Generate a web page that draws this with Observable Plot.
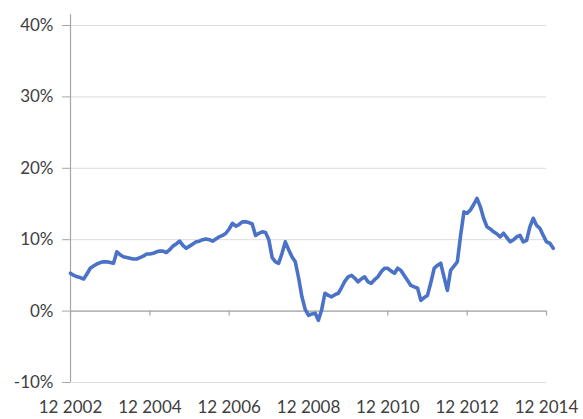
<!DOCTYPE html>
<html>
<head>
<meta charset="utf-8">
<script src="https://cdn.jsdelivr.net/npm/d3@7"></script>
<script src="https://cdn.jsdelivr.net/npm/@observablehq/plot@0.6"></script>
<style>
  html, body { margin: 0; padding: 0; background: #ffffff; }
  #chart svg { display: block; }
</style>
</head>
<body>
<div id="chart"></div>
<script>
// Monthly values (%), starting December 2002
const startYear = 2002;
const startMonth = 11; // December (0-based)
const values = [
  5.3, 5.0, 4.8, 4.7, 4.5, 5.2, 6.0, 6.3, 6.6, 6.8, 6.9, 6.9,
  6.8, 6.7, 8.3, 7.9, 7.6, 7.5, 7.4, 7.3, 7.3, 7.5, 7.7, 8.0,
  8.0, 8.1, 8.3, 8.4, 8.4, 8.2, 8.6, 9.1, 9.4, 9.8, 9.2, 8.8,
  9.1, 9.4, 9.7, 9.8, 10.0, 10.1, 10.0, 9.8, 10.1, 10.4, 10.6, 10.9,
  11.5, 12.3, 11.9, 12.1, 12.5, 12.5, 12.4, 12.2, 10.6, 10.9, 11.1, 11.0,
  10.0, 7.5, 6.9, 6.7, 8.1, 9.7, 8.6, 7.6, 6.9, 4.6, 2.0, 0.2,
  -0.6, -0.4, -0.3, -1.3, 0.2, 2.5, 2.2, 2.0, 2.3, 2.5, 3.3, 4.2,
  4.8, 5.0, 4.6, 4.1, 4.5, 4.8, 4.1, 3.9, 4.4, 4.8, 5.5, 6.0,
  6.0, 5.6, 5.3, 6.0, 5.7, 5.0, 4.3, 3.6, 3.4, 3.2, 1.5, 1.9,
  2.2, 4.0, 6.0, 6.4, 6.7, 4.8, 2.9, 5.7, 6.3, 6.9, 10.6, 13.9,
  13.7, 14.2, 15.0, 15.8, 14.6, 13.0, 11.8, 11.5, 11.1, 10.8, 10.4, 10.9,
  10.3, 9.7, 10.0, 10.4, 10.6, 9.7, 9.9, 11.8, 13.0, 12.0, 11.6, 10.6,
  9.7, 9.5, 8.8
];
const tickYears = [2002, 2004, 2006, 2008, 2010, 2012, 2014];
const tickLabels = ["12 2002", "12 2004", "12 2006", "12 2008", "12 2010", "12 2012", "12 2014"];
const yTicks = [-10, 0, 10, 20, 30, 40];

const data = values.map((v, i) => ({date: new Date(Date.UTC(startYear, startMonth + i, 1)), value: v}));
const tickDates = tickYears.map(y => new Date(Date.UTC(y, 11, 1)));
const labelOf = new Map(tickDates.map((d, i) => [+d, tickLabels[i]]));

const axisColor = "#a6a6a6";
const textColor = "#404040";
const font = "Lato, 'Open Sans', sans-serif";

const chart = Plot.plot({
  width: 583,
  height: 419,
  marginLeft: 70,
  marginRight: 37,
  marginTop: 25,
  marginBottom: 37,
  style: {fontFamily: font, fontSize: "17px", color: textColor, background: "#ffffff"},
  x: {type: "utc", domain: [tickDates[0], tickDates[tickDates.length - 1]]},
  y: {domain: [-10, 40]},
  marks: [
    Plot.gridY(yTicks, {stroke: "#dcdcdc", strokeOpacity: 1}),
    Plot.ruleY([0], {stroke: axisColor, strokeWidth: 1.2}),
    Plot.ruleX([tickDates[0]], {y1: -10, y2: 41.5, stroke: axisColor, strokeWidth: 1.2}),
    Plot.ruleX(tickDates, {y1: 0, y2: -0.7, stroke: axisColor, strokeWidth: 1.2}),
    Plot.axisY(yTicks, {label: null, tickSize: 8, tickPadding: 9, stroke: axisColor, tickFormat: d => d + "%", fill: textColor}),
    Plot.axisX(tickDates, {label: null, tickSize: 0, tickPadding: 18, tickFormat: d => labelOf.get(+d), fill: textColor}),
    Plot.line(data, {x: "date", y: "value", stroke: "#4a72c6", strokeWidth: 3.6, curve: "linear", strokeLinejoin: "round"})
  ]
});
document.getElementById("chart").appendChild(chart);
</script>
</body>
</html>
